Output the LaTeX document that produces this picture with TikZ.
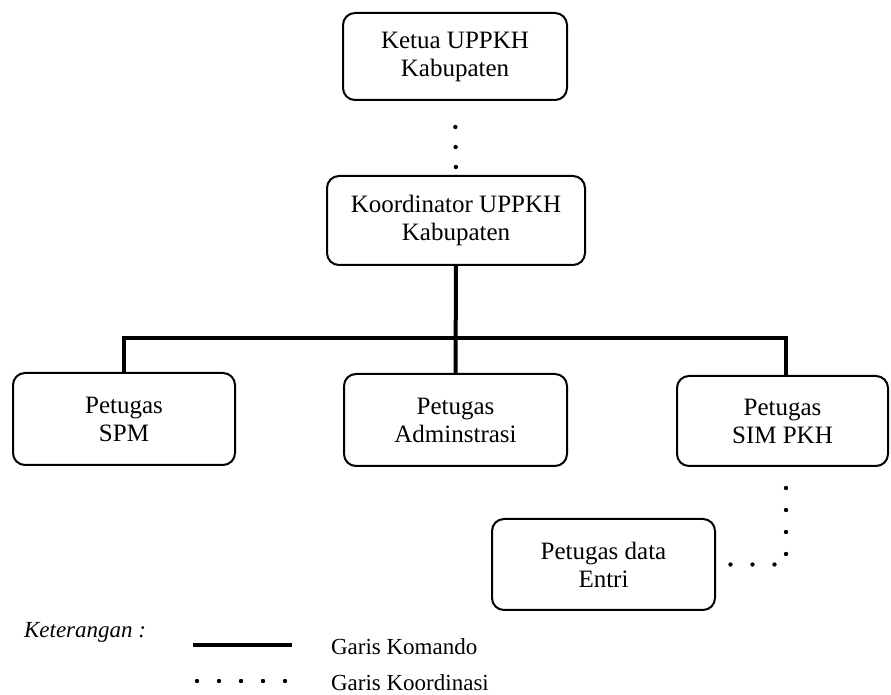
\documentclass[tikz,border=0pt]{standalone}
\usepackage{fontspec}
\setmainfont{Liberation Serif}
\begin{document}
\begin{tikzpicture}[x=0.5pt,y=-0.5pt,
  kotak/.style={draw,rounded corners=6pt,line width=1pt,align=center,
    font=\fontsize{12.5}{14}\selectfont,minimum width=111.5pt,minimum height=46pt},
  legenda/.style={anchor=west,font=\fontsize{11.5}{14}\selectfont},
  komando/.style={line width=2pt},
  koordinasi/.style={line width=2.2pt,line cap=round,dash pattern=on 0pt off 10pt}]
  \useasboundingbox (0,0) rectangle (891,695);
          % kotak
          \node [kotak,minimum width=112pt,minimum height=43.5pt] (ketua) at (455,56.5) {Ketua UPPKH\\Kabupaten};
          \node [kotak,minimum width=129pt,minimum height=44.5pt] (koor) at (456,220.5) {Koordinator UPPKH\\Kabupaten};
          \node [kotak,minimum width=111pt] (spm) at (124,419) {Petugas\\SPM};
          \node [kotak] (admin) at (455.5,420) {Petugas\\Adminstrasi};
          \node [kotak,minimum width=105.5pt,minimum height=45pt] (sim) at (782.5,421) {Petugas\\SIM PKH};
          \node [kotak,minimum height=45.5pt] (entri) at (603.5,564.5) {Petugas data\\Entri};
          % garis
          \coordinate (cabang) at (456,338);
          \draw [koordinasi,shorten <=13pt](ketua.south)--(koor.north);
          \draw [komando](koor.south)--(admin.north);
          \draw [komando](spm.north)|-(cabang)-|([xshift=1.75pt]sim.north);
          \draw [koordinasi,dash pattern=on 0pt off 11pt,shorten <=10.5pt]([xshift=1.75pt]sim.south)|-(entri.east);
          % keterangan
          \node [anchor=west,font=\fontsize{11.5}{14}\selectfont\itshape] (ket) at (17,632) {Keterangan :};
          \coordinate (k1) at (193,645);
          \coordinate (k2) at (292,645);
          \draw [komando](k1)--(k2);
          \node [legenda] (kom) at (324,647) {Garis Komando};
          \coordinate (d1) at (197,681);
          \coordinate (d2) at (286,681);
          \draw [koordinasi,dash pattern=on 0pt off 11pt](d1)--(d2);
          \node [legenda] (koo) at (324,683) {Garis Koordinasi};
\end{tikzpicture}
\end{document}
